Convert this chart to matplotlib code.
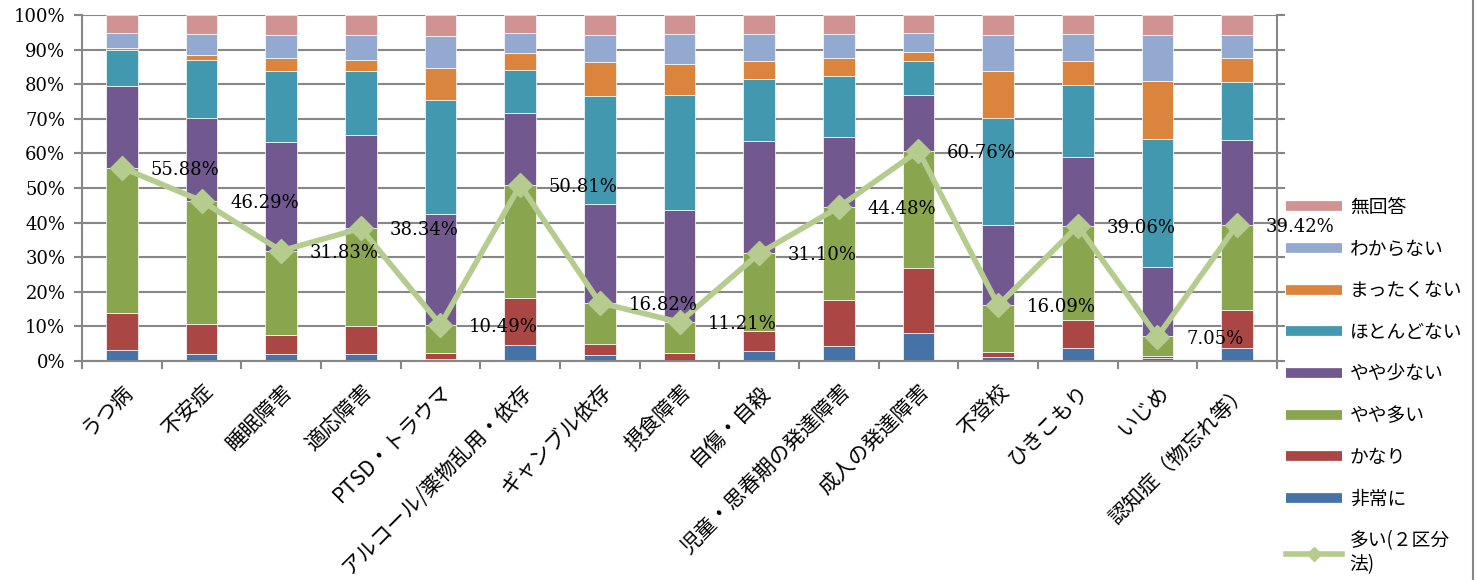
import matplotlib
matplotlib.use('Agg')
import matplotlib.pyplot as plt
from matplotlib.lines import Line2D
import numpy as np

plt.rcParams['font.family'] = ['Noto Sans CJK JP', 'DejaVu Sans']

# カテゴリ
categories = ['うつ病', '不安症', '睡眠障害', '適応障害', 'PTSD・トラウマ',
              'アルコール/薬物乱用・依存', 'ギャンブル依存', '摂食障害', '自傷・自殺',
              '児童・思春期の発達障害', '成人の発達障害', '不登校', 'ひきこもり',
              'いじめ', '認知症（物忘れ等）']

# 各回答の割合 (%) -- 画像から読み取り
hijou   = [3.2, 2.0, 1.9, 1.9, 0.5, 4.5, 1.6, 0.2, 2.9, 4.2, 8.2, 1.2, 3.8, 0.8, 3.8]
kanari  = [10.7, 8.6, 5.7, 8.1, 1.7, 13.8, 3.2, 2.0, 5.8, 13.5, 18.7, 1.5, 8.0, 0.6, 10.9]
yaya_oi = [42.0, 35.7, 24.2, 28.3, 8.3, 32.5, 12.0, 9.0, 22.4, 26.8, 33.9, 13.4, 27.3, 5.7, 24.7]
yaya_sukunai = [23.6, 24.0, 31.5, 27.1, 32.0, 21.0, 28.6, 32.5, 32.4, 20.3, 16.1, 23.3, 19.9, 20.2, 24.5]
hotondo = [10.4, 16.6, 20.6, 18.5, 32.9, 12.4, 31.2, 33.2, 18.0, 17.5, 9.7, 30.9, 20.7, 36.8, 16.8]
mattaku = [0.7, 1.6, 3.7, 3.1, 9.3, 4.7, 9.8, 9.0, 5.3, 5.4, 2.7, 13.5, 6.9, 16.8, 6.9]
wakaranai = [4.1, 5.9, 6.7, 7.3, 9.3, 5.8, 7.9, 8.5, 7.6, 6.7, 5.4, 10.3, 7.8, 13.2, 6.5]
mukaitou = [5.3, 5.6, 5.7, 5.7, 6.0, 5.3, 5.7, 5.6, 5.6, 5.6, 5.3, 5.9, 5.6, 5.9, 5.9]

# 多い（２区分法）
ooi = [55.88, 46.29, 31.83, 38.34, 10.49, 50.81, 16.82, 11.21, 31.10,
       44.48, 60.76, 16.09, 39.06, 7.05, 39.42]

series = [('非常に', hijou, '#4572A7'),
          ('かなり', kanari, '#AA4643'),
          ('やや多い', yaya_oi, '#89A54E'),
          ('やや少ない', yaya_sukunai, '#71588F'),
          ('ほとんどない', hotondo, '#4198AF'),
          ('まったくない', mattaku, '#DB843D'),
          ('わからない', wakaranai, '#93A9CF'),
          ('無回答', mukaitou, '#D19392')]

line_color = '#B5CC8E'
grid_color = '#878787'

fig = plt.figure(figsize=(14.79, 5.8), dpi=100)
ax = fig.add_axes([82 / 1479, 219 / 580, (1277 - 82) / 1479, (565 - 219) / 580])

x = np.arange(len(categories))
bottom = np.zeros(len(categories))
for name, vals, col in series:
    ax.bar(x, vals, width=0.4, bottom=bottom, color=col, edgecolor='white',
           linewidth=0.5, zorder=2)
    bottom += np.array(vals)

ax.plot(x, ooi, color=line_color, lw=4, marker='D', markersize=12,
        markeredgecolor=line_color, zorder=3)

for xi, v in zip(x, ooi):
    ax.text(xi + 0.36, v - 0.6, f'{v:.2f}%', family='DejaVu Serif', fontsize=13,
            va='center', ha='left', zorder=4)

ax.set_xlim(-0.5, len(categories) - 0.5)
ax.set_ylim(0, 100)
ax.set_yticks(np.arange(0, 101, 10))
ax.set_yticklabels([f'{t}%' for t in range(0, 101, 10)], family='DejaVu Serif', fontsize=13)
ax.yaxis.grid(True, color=grid_color, lw=1.5, zorder=0)
ax.tick_params(axis='y', which='major', direction='out', length=6, width=1.5,
               color=grid_color, right=True, pad=6)

ax.set_xticks(np.arange(-0.5, len(categories), 1.0))
ax.set_xticklabels([])
ax.set_xticks(x, minor=True)
ax.set_xticklabels(categories, minor=True, rotation=45, ha='right',
                   rotation_mode='anchor', fontsize=15)
ax.tick_params(axis='x', which='major', direction='out', length=6, width=1.5, color=grid_color)
ax.tick_params(axis='x', which='minor', length=0, pad=14)

for s in ['left', 'right', 'bottom']:
    ax.spines[s].set_color(grid_color)
    ax.spines[s].set_linewidth(1.5)
ax.spines['top'].set_visible(False)

# 凡例
handles = [Line2D([0], [0], color=col, lw=7, solid_capstyle='butt')
           for name, vals, col in reversed(series)]
labels = [name for name, vals, col in reversed(series)]
handles.append(Line2D([0], [0], color=line_color, lw=4, marker='D', markersize=7))
labels.append('多い(２区分\n法)')
fig.legend(handles, labels, loc='upper left', bbox_to_anchor=(1286 / 1479, 1 - 197 / 580),
           frameon=False, fontsize=13.5, handlelength=3.0, handletextpad=0.4,
           labelspacing=1.1, borderpad=0, borderaxespad=0)

fig.add_artist(Line2D([1473 / 1479, 1473 / 1479], [0, 1], color=grid_color, lw=1.5))

fig.savefig('out.png', dpi=100)
